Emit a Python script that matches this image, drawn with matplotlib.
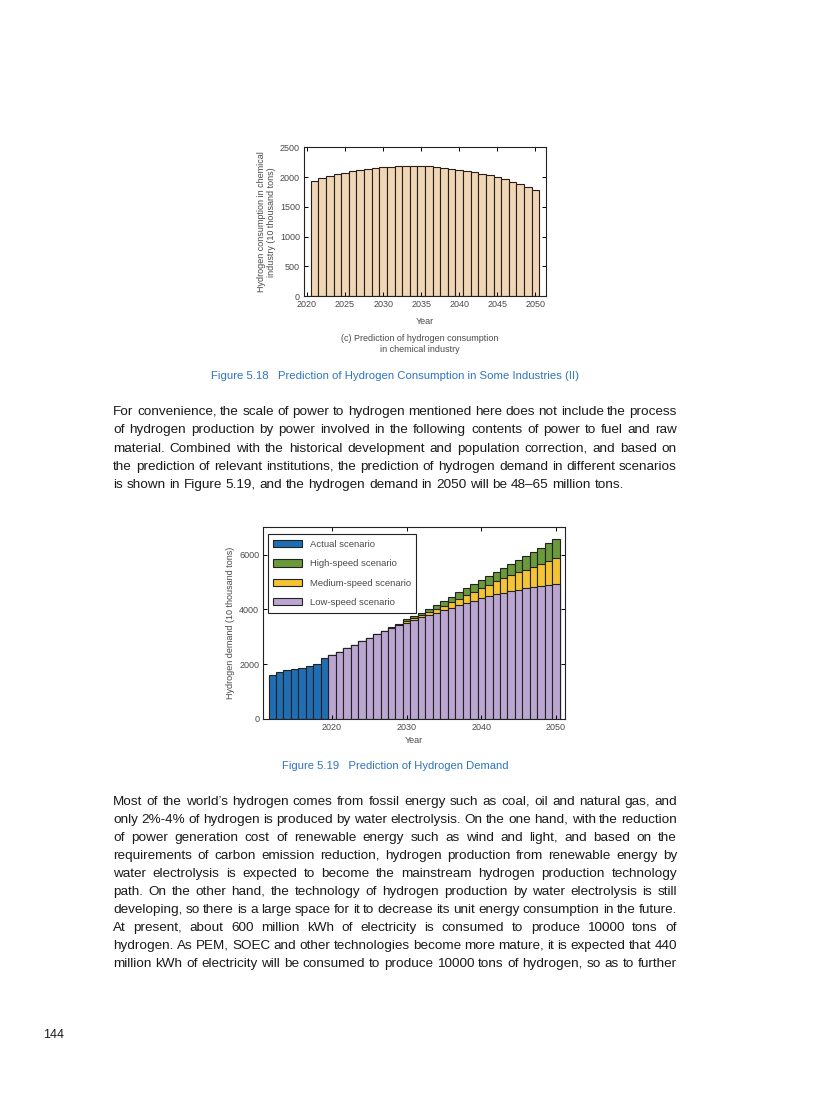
import matplotlib
matplotlib.use('Agg')
import matplotlib.pyplot as plt
import numpy as np

plt.rcParams['font.family'] = ['Liberation Sans', 'DejaVu Sans']

W, H = 816, 1100

# Figure 5.18 (c): hydrogen consumption in chemical industry (10 thousand tons)
chem_years = list(range(2021, 2051))
chem_values = [1944, 1983, 2017, 2050, 2073, 2096, 2118, 2140, 2157, 2169,
               2180, 2185, 2191, 2194, 2191, 2185, 2174, 2163, 2146, 2129,
               2112, 2084, 2062, 2034, 2000, 1966, 1927, 1882, 1831, 1781]

# Figure 5.19: hydrogen demand (10 thousand tons)
actual_years = list(range(2012, 2020))
actual_values = [1616, 1702, 1776, 1824, 1873, 1935, 2020, 2216]
forecast_years = list(range(2020, 2051))
low_values = [2339, 2461, 2608, 2718, 2841, 2963, 3086, 3196, 3318, 3416,
              3514, 3612, 3710, 3796, 3882, 3980, 4065, 4151, 4249, 4322,
              4408, 4482, 4555, 4616, 4678, 4727, 4776, 4812, 4861, 4898, 4935]
medium_values = [2339, 2461, 2608, 2718, 2841, 2963, 3086, 3206, 3335, 3445,
                 3563, 3686, 3796, 3906, 4029, 4139, 4261, 4396, 4518, 4641,
                 4776, 4910, 5033, 5131, 5241, 5351, 5449, 5559, 5657, 5755, 5865]
high_values = [2339, 2461, 2608, 2718, 2841, 2963, 3086, 3215, 3355, 3480,
               3637, 3759, 3882, 4029, 4163, 4310, 4469, 4629, 4776, 4922,
               5069, 5229, 5376, 5498, 5645, 5792, 5939, 6098, 6245, 6416, 6563]
legend_labels = ['Actual scenario', 'High-speed scenario',
                 'Medium-speed scenario', 'Low-speed scenario']

para1 = [
    "For convenience, the scale of power to hydrogen mentioned here does not include the process",
    "of hydrogen production by power involved in the following contents of power to fuel and raw",
    "material. Combined with the historical development and population correction, and based on",
    "the prediction of relevant institutions, the prediction of hydrogen demand in different scenarios",
    "is shown in Figure 5.19, and the hydrogen demand in 2050 will be 48\u201365 million tons.",
]
para2 = [
    "Most of the world\u2019s hydrogen comes from fossil energy such as coal, oil and natural gas, and",
    "only 2%-4% of hydrogen is produced by water electrolysis. On the one hand, with the reduction",
    "of power generation cost of renewable energy such as wind and light, and based on the",
    "requirements of carbon emission reduction, hydrogen production from renewable energy by",
    "water electrolysis is expected to become the mainstream hydrogen production technology",
    "path. On the other hand, the technology of hydrogen production by water electrolysis is still",
    "developing, so there is a large space for it to decrease its unit energy consumption in the future.",
    "At present, about 600 million kWh of electricity is consumed to produce 10000 tons of",
    "hydrogen. As PEM, SOEC and other technologies become more mature, it is expected that 440",
    "million kWh of electricity will be consumed to produce 10000 tons of hydrogen, so as to further",
]

TICK_C = '#4a4a4a'
CAP_C = '#2f74c0'
TEXT_C = '#1a1a1a'
BODY = 9.7


def style_axes(ax):
    for s in ax.spines.values():
        s.set_linewidth(0.8)
        s.set_color('#222222')
    ax.tick_params(direction='in', length=3, width=0.7, top=True, right=True,
                   labelsize=6.5, labelcolor=TICK_C, pad=3)


def fx(px):
    return px / W


def fy(py):
    return 1 - py / H


def ink_top(s, yb):
    # first inked row of a word, drawn exactly where it will sit on the page
    f = plt.figure(figsize=(W / 100, H / 100), dpi=100)
    f.text(0.02, fy(yb), s, fontsize=BODY, va='baseline')
    f.canvas.draw()
    a = np.asarray(f.canvas.buffer_rgba())[:, :, 0]
    plt.close(f)
    return np.where((a < 160).any(axis=1))[0][0]


def comma_shift(w, yb):
    # agg can put a word whose only descender is a comma a pixel off the line
    if w.endswith(',') and len(w) > 1:
        return ink_top(w, yb) - ink_top(w[:-1], yb)
    return 0


def paragraph(fig, lines, y0, dy, justify_last):
    r = fig.canvas.get_renderer()
    x0, x1 = 113, 677
    for i, line in enumerate(lines):
        # baseline a tenth of a pixel off the grid keeps agg's rounding away from ties
        yb = round(y0 + i * dy) + 0.1
        words = line.split()
        ts = [fig.text(0, fy(yb - comma_shift(w, yb)), w, fontsize=BODY, color=TEXT_C,
                       va='baseline') for w in words]
        widths = [t.get_window_extent(r).width for t in ts]
        if i == len(lines) - 1 and not justify_last:
            a = fig.text(0, 0, 'a a', fontsize=BODY)
            b = fig.text(0, 0, 'aa', fontsize=BODY)
            gap = a.get_window_extent(r).width - b.get_window_extent(r).width
            a.remove()
            b.remove()
        else:
            gap = (x1 - x0 - sum(widths)) / (len(words) - 1)
        x = x0
        for t, wd in zip(ts, widths):
            t.set_x(fx(x))
            x += wd + gap


fig = plt.figure(figsize=(W / 100, H / 100), dpi=100)
fig.patch.set_facecolor('white')

# ---- top chart
ax1 = fig.add_axes([fx(304), fy(296), (546 - 304) / W, (296 - 147.5) / H])
ax1.bar(chem_years, chem_values, width=1.0, color='#efd6b6', edgecolor='#2b1d17', linewidth=0.8)
ax1.set_xlim(2019.62, 2051.38)
ax1.set_ylim(0, 2500)
ax1.set_xticks(range(2020, 2051, 5))
ax1.set_yticks(range(0, 2501, 500))
style_axes(ax1)
ax1.set_xlabel('Year', fontsize=6.5, color=TICK_C, labelpad=6)
ax1.set_ylabel('Hydrogen consumption in chemical\nindustry (10 thousand tons)',
               fontsize=6.5, color=TICK_C, labelpad=3, linespacing=1.1)
fig.text(fx(420), fy(344), '(c) Prediction of hydrogen consumption\nin chemical industry',
         fontsize=6.5, color=TICK_C, ha='center', va='center', linespacing=1.3)
fig.text(fx(395), fy(376), 'Figure 5.18   Prediction of Hydrogen Consumption in Some Industries (II)',
         fontsize=8.2, color=CAP_C, ha='center', va='center')

# ---- bottom chart
ax2 = fig.add_axes([fx(263.3), fy(719), (565 - 263.3) / W, (719 - 527.3) / H])
ec = '#222222'
ax2.bar(forecast_years, high_values, width=1.0, color='#6b9a3c', edgecolor=ec, linewidth=0.8,
        label=legend_labels[1])
ax2.bar(forecast_years, medium_values, width=1.0, color='#f4c434', edgecolor=ec, linewidth=0.8,
        label=legend_labels[2])
ax2.bar(forecast_years, low_values, width=1.0, color='#bba6d2', edgecolor=ec, linewidth=0.8,
        label=legend_labels[3])
ax2.bar(actual_years, actual_values, width=1.0, color='#1f6db2', edgecolor=ec, linewidth=0.8,
        label=legend_labels[0])
ax2.set_xlim(2010.8, 2051.2)
ax2.set_ylim(0, 7000)
ax2.set_xticks([2020, 2030, 2040, 2050])
ax2.set_yticks([0, 2000, 4000, 6000])
style_axes(ax2)
ax2.set_xlabel('Year', fontsize=6.5, color=TICK_C, labelpad=3)
ax2.set_ylabel('Hydrogen demand (10 thousand tons)', fontsize=6.5, color=TICK_C, labelpad=3)
h, l = ax2.get_legend_handles_labels()
order = [l.index(name) for name in legend_labels]
leg = ax2.legend([h[i] for i in order], [l[i] for i in order], loc='upper left',
                 bbox_to_anchor=(0.014, 0.965), fontsize=6.8, frameon=True, fancybox=False,
                 edgecolor='#222222', framealpha=1, handlelength=3.1, handleheight=0.85,
                 labelspacing=1.1, borderpad=0.6, handletextpad=0.75, borderaxespad=0)
leg.get_frame().set_linewidth(0.8)
for t in leg.get_texts():
    t.set_color(TICK_C)
fig.text(fx(395.5), fy(766), 'Figure 5.19   Prediction of Hydrogen Demand',
         fontsize=8.1, color=CAP_C, ha='center', va='center')

# ---- body text
paragraph(fig, para1, 415, 18.25, False)
paragraph(fig, para2, 805, 18.05, True)
fig.text(fx(43), fy(1038), '144', fontsize=9, color=TEXT_C, va='baseline')

fig.savefig('out.png', dpi=100, facecolor='white')
